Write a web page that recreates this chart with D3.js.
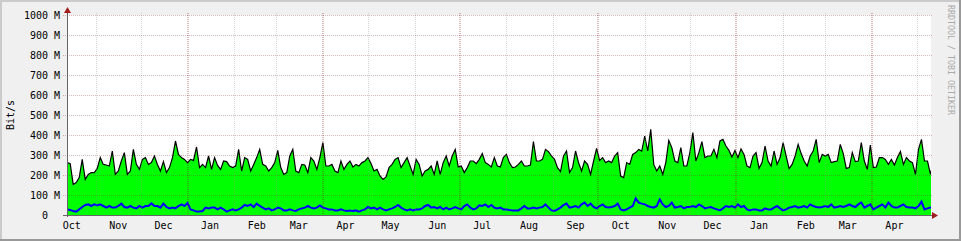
<!DOCTYPE html>
<html>
<head>
<meta charset="utf-8">
<script src="https://cdn.jsdelivr.net/npm/d3@7"></script>
<style>
  body { margin: 0; background: #fff; }
  svg text { font-family: "DejaVu Sans Mono", monospace; white-space: pre; }
</style>
</head>
<body>
<div id="chart"></div>
<script>
// samples every 2 days, values in Mbit/s
const startDate = "2009-10-13";
const stepDays = 2;

const totalBits = [
  262,257,153,162,187,278,178,203,212,212, 233,287,253,250,245,320,203,220,270,312,
  203,220,328,253,228,278,287,253,262,295, 253,220,267,212,237,287,370,303,287,278,
  262,278,273,340,237,253,237,295,228,287, 248,228,270,267,245,237,245,328,220,287,
  278,220,253,287,328,253,245,220,237,262, 323,237,203,212,295,328,220,212,253,250,
  212,287,270,228,287,362,245,245,253,220, 212,270,228,253,270,240,253,245,262,270,
  287,257,220,228,195,178,190,237,253,278, 287,237,262,287,245,203,278,253,195,220,
  228,245,203,270,203,262,295,245,295,328, 240,245,212,237,270,270,257,278,307,262,
  253,240,287,245,240,
  287,303,262,237,240,253,270,245,245,250, 367,270,270,278,328,317,295,278,237,217,
  295,320,212,237,320,262,220,270,253,203, 270,333,273,287,262,270,262,295,312,195,
  187,262,253,303,312,328,320,395,320,428, 253,220,245,203,262,373,337,270,262,337,
  245,245,312,412,270,312,367,287,295,295, 328,287,370,378,345,323,290,323,287,330,
  303,245,237,295,312,233,262,345,270,245, 320,253,287,362,295,232,253,295,353,307,
  270,245,295,320,378,262,303,295,303,262, 267,270,353,307,233,237,312,267,270,362,
  270,228,350,237,240,287,287,278,253,278, 250,287,317,253,287,270,262,203,328,378,
  270,270,203,270
];

const inBits = [
  28,25,20,17,28,40,50,53,45,53, 48,53,45,37,45,37,37,45,57,40,
  37,45,37,33,45,37,45,45,58,45, 45,37,57,40,33,37,33,45,53,45,
  60,28,23,17,17,20,37,33,37,37, 28,37,28,17,23,28,23,28,37,50,
  45,53,40,57,45,37,28,33,23,28, 37,33,23,23,28,23,20,28,33,37,
  45,37,33,37,48,37,33,28,28,23, 23,28,23,20,23,20,23,17,23,28,
  40,33,37,28,37,28,23,28,33,40, 50,37,28,23,28,23,28,28,33,45,
  50,37,40,33,40,28,37,28,33,40, 33,28,45,53,37,28,33,48,45,53,
  40,50,37,33,37,
  28,28,25,23,23,23,33,45,33,33, 37,33,37,40,53,37,23,20,28,37,
  50,57,37,40,45,37,53,62,45,57, 40,33,45,53,40,37,40,45,57,28,
  23,28,37,45,83,62,57,53,45,40, 37,45,78,53,40,45,62,37,40,45,
  33,40,40,45,40,53,45,33,37,40, 33,28,23,33,45,40,45,37,53,40,
  45,28,23,28,28,23,23,33,28,28, 37,45,33,23,28,37,40,45,37,40,
  45,37,53,45,40,37,40,45,40,53, 37,40,45,40,45,53,45,40,53,62,
  37,45,53,28,37,45,53,37,62,45, 37,37,45,53,40,37,37,33,45,67,
  28,33,37,37
];

const yTicks = [0, 100, 200, 300, 400, 500, 600, 700, 800, 900, 1000];
const yTitle = "Bit/s";
const watermark = "RRDTOOL / TOBI OETIKER";

/**
 * set the dimensions and margins of the graph
 */
function graphDimensions() {
    const margin = {top: 15, right: 30, bottom: 26, left: 67};
    const width = 961 - margin.left - margin.right;
    const height = 241 - margin.top - margin.bottom;
    return [width, height, margin];
}

function XScale(width) {
    return d3.scaleTime()
        .domain([new Date(2009, 9, 12, 21), new Date(2011, 4, 10, 8)])
        .range([0, width]);
}

function YScale(height) {
    return d3.scaleLinear().domain([0, 1000]).range([height, 0]);
}

function buildSeries(values) {
    const start = d3.timeParse("%Y-%m-%d")(startDate);
    return values.map((v, i) => [d3.timeDay.offset(start, i * stepDays), v]);
}

/**
 * background, 3d frame and white canvas like rrdtool
 */
function drawFrame(root, width, height, margin) {
    root.append("rect").attr("width", 961).attr("height", 241).attr("fill", "#f0f0f0");
    root.append("rect").attr("width", 961).attr("height", 2).attr("fill", "#cbcbcb");
    root.append("rect").attr("width", 2).attr("height", 241).attr("fill", "#cbcbcb");
    root.append("rect").attr("y", 239).attr("width", 961).attr("height", 2).attr("fill", "#999");
    root.append("rect").attr("x", 959).attr("width", 2).attr("height", 241).attr("fill", "#999");
    root.append("rect")
        .attr("x", margin.left).attr("y", margin.top)
        .attr("width", width).attr("height", height)
        .attr("fill", "#fff");
}

function drawData(svg, x, y, width, height) {
    svg.append("clipPath").attr("id", "plot")
        .append("rect").attr("width", width).attr("height", height);
    const g = svg.append("g").attr("clip-path", "url(#plot)");
    const total = buildSeries(totalBits);
    const inb = buildSeries(inBits);

    g.append("path").datum(total)
        .attr("fill", "#00ff00")
        .attr("d", d3.area().x(d => x(d[0])).y0(height).y1(d => y(d[1])));
    g.append("path").datum(total)
        .attr("fill", "none")
        .attr("stroke", "#000")
        .attr("stroke-width", 1.2)
        .attr("d", d3.line().x(d => x(d[0])).y(d => y(d[1])));
    g.append("path").datum(inb)
        .attr("fill", "none")
        .attr("stroke", "#0000ff")
        .attr("stroke-width", 2)
        .attr("d", d3.line().x(d => x(d[0])).y(d => y(d[1])));
}

function drawGrid(svg, x, y, width, height) {
    const months = d3.timeMonth.range(d3.timeMonth.ceil(x.domain()[0]), x.domain()[1]);
    svg.append("g").selectAll("line")
        .data(months)
        .enter()
        .append("line")
        .attr("x1", d => Math.round(x(d)) + (d.getMonth() % 3 === 0 ? 0 : 0.5))
        .attr("x2", d => Math.round(x(d)) + (d.getMonth() % 3 === 0 ? 0 : 0.5))
        .attr("y1", -2)
        .attr("y2", height + 2)
        .attr("stroke", d => d.getMonth() % 3 === 0 ? "rgba(130,30,30,0.3)" : "rgba(140,140,140,0.35)")
        .attr("stroke-width", d => d.getMonth() % 3 === 0 ? 2 : 1)
        .attr("stroke-dasharray", "1,1");

    svg.append("g").selectAll("line")
        .data(yTicks.filter(d => d > 0))
        .enter()
        .append("line")
        .attr("x1", -4)
        .attr("x2", width + 1)
        .attr("y1", d => Math.round(y(d)) + 0.5)
        .attr("y2", d => Math.round(y(d)) + 0.5)
        .attr("stroke", "rgba(130,30,30,0.3)")
        .attr("stroke-dasharray", "1,1");
}

function drawAxes(svg, x, y, width, height) {
    svg.append("line")
        .attr("x1", -4).attr("x2", width + 2)
        .attr("y1", height + 0.5).attr("y2", height + 0.5)
        .attr("stroke", "#666");
    svg.append("line")
        .attr("x1", 0.5).attr("x2", 0.5)
        .attr("y1", -2).attr("y2", height + 2)
        .attr("stroke", "#666");
    svg.append("path")
        .attr("d", "M-3," + (-2) + "L4," + (-2) + "L0.5," + (-8) + "Z")
        .attr("fill", "#a01e1e");
    svg.append("path")
        .attr("d", "M" + (width + 1) + "," + (height - 3) + "L" + (width + 1) + "," + (height + 4) + "L" + (width + 7) + "," + (height + 0.5) + "Z")
        .attr("fill", "#a01e1e");
}

function drawLabels(root, svg, x, y, width, height, margin) {
    svg.append("g").selectAll("text")
        .data(yTicks)
        .enter()
        .append("text")
        .attr("x", -7)
        .attr("y", d => y(d))
        .attr("dy", "0.35em")
        .attr("text-anchor", "end")
        .style("font-size", "10px")
        .text(d => d === 0 ? "0  " : d + " M");

    const months = d3.timeMonth.range(d3.timeMonth.floor(x.domain()[0]), x.domain()[1])
        .map(m => d3.timeDay.offset(m, 15))
        .filter(d => x(d) <= width);
    svg.append("g").selectAll("text")
        .data(months)
        .enter()
        .append("text")
        .attr("x", d => x(d))
        .attr("y", height + 13.5)
        .attr("text-anchor", "middle")
        .style("font-size", "10px")
        .text(d3.timeFormat("%b"));

    root.append("text")
        .attr("text-anchor", "middle")
        .style("font-size", "10px")
        .attr("transform", "translate(14," + (margin.top + height / 2) + ")rotate(-90)")
        .text(yTitle);

    root.append("text")
        .attr("text-anchor", "start")
        .style("font-size", "8.3px")
        .attr("fill", "#aaa")
        .attr("transform", "translate(948,5)rotate(90)")
        .text(watermark);
}

function drawGraph() {
    const [width, height, margin] = graphDimensions();
    const root = d3.select("#chart").append("svg")
        .attr("width", width + margin.left + margin.right)
        .attr("height", height + margin.top + margin.bottom);
    drawFrame(root, width, height, margin);
    const svg = root.append("g")
        .attr("transform", "translate(" + margin.left + "," + margin.top + ")");
    const x = XScale(width);
    const y = YScale(height);
    drawData(svg, x, y, width, height);
    drawGrid(svg, x, y, width, height);
    drawAxes(svg, x, y, width, height);
    drawLabels(root, svg, x, y, width, height, margin);
}

drawGraph();
</script>
</body>
</html>
